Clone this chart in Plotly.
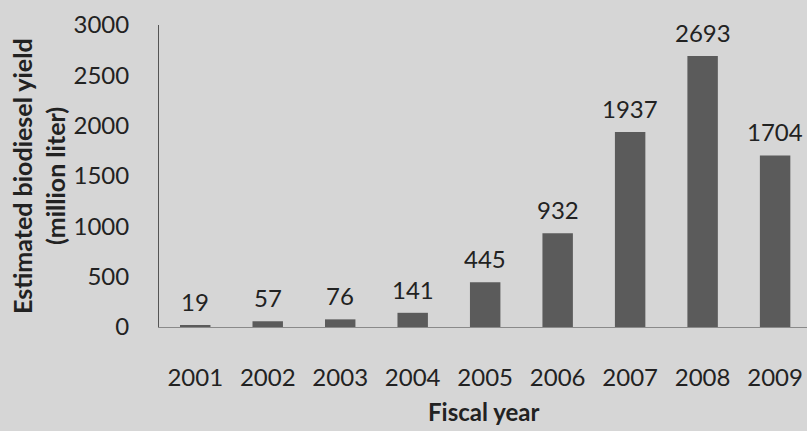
import plotly.graph_objects as go

# Estimated biodiesel yield by fiscal year (million liter)
years = ["2001", "2002", "2003", "2004", "2005", "2006", "2007", "2008", "2009"]
yield_ml = [19, 57, 76, 141, 445, 932, 1937, 2693, 1704]
y_ticks = [0, 500, 1000, 1500, 2000, 2500, 3000]

FONT = "Lato"
TEXT = "#222222"
BG = "#d6d6d6"
BAR = "#5b5b5b"

fig = go.Figure()
fig.add_trace(go.Bar(
    x=years, y=yield_ml,
    marker=dict(color=BAR, line=dict(width=0)),
    width=0.42,
    hoverinfo="skip",
))

# value labels above each bar (category axis positions by index)
for i, v in enumerate(yield_ml):
    fig.add_annotation(
        x=i, y=v, xref="x", yref="y",
        text=str(v), showarrow=False,
        yanchor="bottom", yshift=7,
        font=dict(family=FONT, size=24, color=TEXT),
    )

# two-line y-axis title
fig.add_annotation(
    xref="paper", yref="paper", x=0, y=0.5,
    xanchor="center", yanchor="middle", xshift=-137,
    text="<b>Estimated biodiesel yield</b>", textangle=-90, showarrow=False,
    font=dict(family=FONT, size=25, color=TEXT),
)
fig.add_annotation(
    xref="paper", yref="paper", x=0, y=0.5,
    xanchor="center", yanchor="middle", xshift=-104,
    text="<b>(million liter)</b>", textangle=-90, showarrow=False,
    font=dict(family=FONT, size=25, color=TEXT),
)
# x-axis title
fig.add_annotation(
    xref="paper", yref="paper", x=0.5, y=0,
    xanchor="center", yanchor="middle", yshift=-84,
    text="<b>Fiscal year</b>", showarrow=False,
    font=dict(family=FONT, size=24, color=TEXT),
)

fig.update_layout(
    width=807, height=431,
    margin=dict(l=159, r=0, t=25, b=104),
    paper_bgcolor=BG, plot_bgcolor=BG,
    showlegend=False,
    font=dict(family=FONT, size=24, color=TEXT),
)
fig.update_xaxes(
    type="category", range=[-0.5, 8.44],
    showgrid=False, zeroline=False,
    showline=True, linecolor="#8a8a8a", linewidth=1,
    ticks="", ticklabelstandoff=29,
    tickfont=dict(family=FONT, size=24, color=TEXT),
)
fig.update_yaxes(
    range=[0, 3000], tickvals=y_ticks,
    showgrid=False, zeroline=False,
    showline=True, linecolor="#555555", linewidth=1,
    ticks="", ticklabelstandoff=24,
    tickfont=dict(family=FONT, size=24, color=TEXT),
)

fig.write_html("out.html")
